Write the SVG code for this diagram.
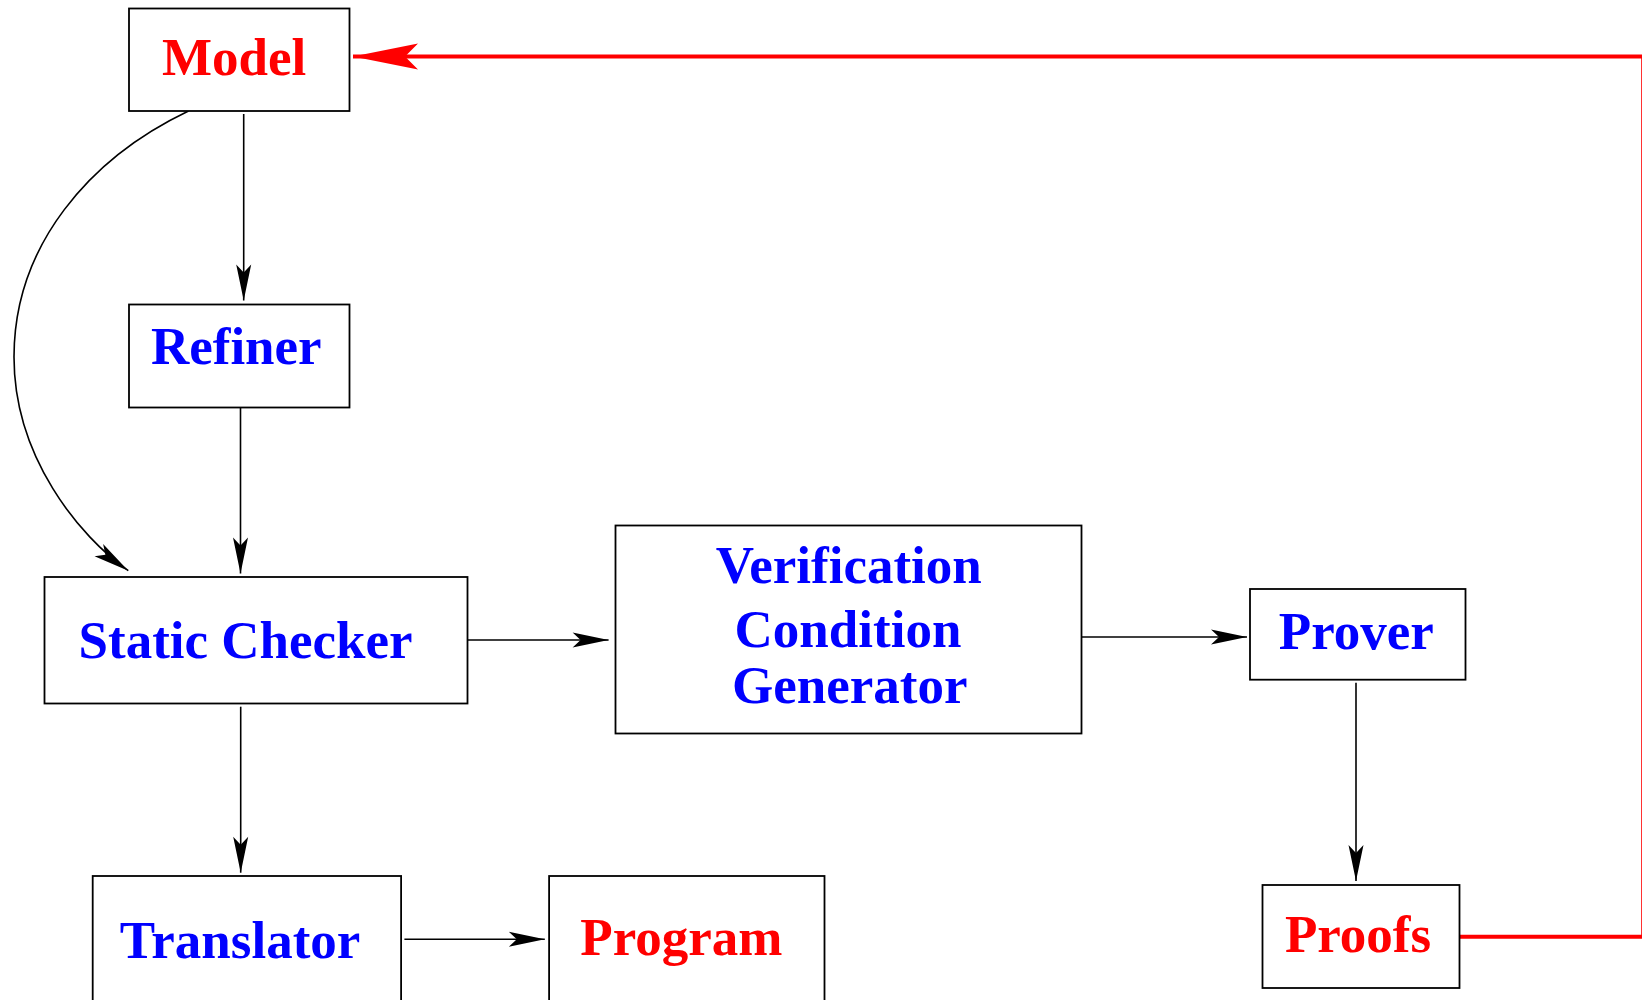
<svg xmlns="http://www.w3.org/2000/svg" width="1642" height="1000" viewBox="0 0 1642 1000">
  <style>
    .box { fill: #ffffff; stroke: #000000; stroke-width: 1.8; }
    .lbl { font-family: "Liberation Serif", "Times New Roman", serif; font-weight: bold; font-size: 53px; text-anchor: middle; }
    .blue { fill: #0000ff; }
    .red { fill: #ff0000; }
    .edge { fill: none; stroke: #000000; stroke-width: 1.6; marker-end: url(#arrow); }
    .feedback { fill: none; stroke: #ff0000; stroke-width: 4; marker-end: url(#arrow-red); }
  </style>
  <defs>
    <marker id="arrow" markerUnits="userSpaceOnUse" viewBox="-38 -9 40 18" markerWidth="40" markerHeight="18" refX="0" refY="0" orient="auto">
      <path d="M0,0 L-36,-7.5 L-28,0 L-36,7.5 Z" fill="#000000"/>
    </marker>
    <marker id="arrow-red" markerUnits="userSpaceOnUse" viewBox="-68 -15 70 30" markerWidth="70" markerHeight="30" refX="0" refY="0" orient="auto">
      <path d="M0,0 L-65,-13 L-52,0 L-65,13 Z" fill="#ff0000"/>
    </marker>
  </defs>
  <rect width="1642" height="1000" fill="#ffffff"/>

  <g id="connectors">
    <line class="edge" x1="243.7" y1="114" x2="243.7" y2="300.5"/>
    <path class="edge" d="M188.5,111 C90,158 14,245 14,357 C14,457 79.2,536.3 128.3,570.7"/>
    <line class="edge" x1="240.5" y1="407.7" x2="240.5" y2="573.5"/>
    <line class="edge" x1="467.7" y1="640" x2="608.6" y2="640"/>
    <line class="edge" x1="1081.3" y1="637" x2="1247" y2="637"/>
    <line class="edge" x1="1356" y1="682.7" x2="1356" y2="881"/>
    <line class="edge" x1="240.7" y1="706.7" x2="240.7" y2="872.7"/>
    <line class="edge" x1="404.4" y1="939.3" x2="544.8" y2="939.3"/>
    <!-- feedback loop from Proofs back to Model, running along the right edge -->
    <path class="feedback" d="M1459.5,936.7 H1643.2 V56.5 H353"/>
  </g>

  <g id="model">
    <rect class="box" x="129" y="8.5" width="220.5" height="102.5"/>
    <text class="lbl red" x="234" y="75">Model</text>
  </g>
  <g id="refiner">
    <rect class="box" x="129" y="304.5" width="220.5" height="103"/>
    <text class="lbl blue" x="236.3" y="364.3">Refiner</text>
  </g>
  <g id="static-checker">
    <rect class="box" x="44.5" y="577" width="423" height="126.5"/>
    <text class="lbl blue" x="245.6" y="658.3">Static Checker</text>
  </g>
  <g id="vc-generator">
    <rect class="box" x="615.5" y="525.5" width="466" height="208"/>
    <text class="lbl blue" x="848.8" y="582.7">Verification</text>
    <text class="lbl blue" x="848" y="646.7">Condition</text>
    <text class="lbl blue" x="849.7" y="703.3">Generator</text>
  </g>
  <g id="prover">
    <rect class="box" x="1250" y="589" width="215.5" height="90.7"/>
    <text class="lbl blue" x="1356.3" y="649">Prover</text>
  </g>
  <g id="proofs">
    <rect class="box" x="1262.5" y="885" width="197" height="103"/>
    <text class="lbl red" x="1358" y="951.7">Proofs</text>
  </g>
  <g id="translator">
    <rect class="box" x="92.7" y="876" width="308.4" height="140"/>
    <text class="lbl blue" x="240.1" y="957.7">Translator</text>
  </g>
  <g id="program">
    <rect class="box" x="549.1" y="876" width="275.4" height="140"/>
    <text class="lbl red" x="681.4" y="955">Program</text>
  </g>
</svg>
